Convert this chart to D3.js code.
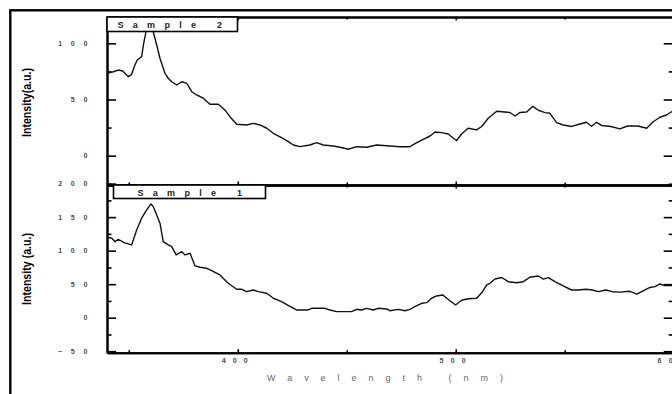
<!DOCTYPE html>
<html>
<head>
<meta charset="utf-8">
<script src="https://cdn.jsdelivr.net/npm/d3@7"></script>
<style>
  html, body { margin: 0; padding: 0; background: #fff; }
  svg { display: block; }
  text { font-family: "Liberation Sans", Arial, sans-serif; }
</style>
</head>
<body>
<svg id="chart" width="672" height="394"></svg>
<script>
// ---- Data ----
const xTicks = [400, 500, 600];
const xMinorTicks = [350, 450, 550];
const yTicksTop = [0, 50, 100];
const yMinorTop = [-25, 25, 75];
const yTicksBottom = [-50, 0, 50, 100, 150, 200];
const yMinorBottom = [-25, 25, 75, 125, 175];

const sample2Wavelength = [340.1,342.9,345.2,347.2,349.8,351.3,352.8,353.9,355.9,356.7,357.9,359.2,361.2,362.8,364.3,366.6,368.1,369.7,372.0,374.3,376.6,378.9,381.1,384.2,387.2,391.1,394.1,396.4,399.5,404.1,407.1,410.2,413.3,416.3,420.1,423.2,425.5,428.5,433.1,436.2,439.2,443.8,446.9,450.7,454.5,459.1,463.7,469.8,474.4,479.0,482.1,485.1,488.2,490.5,493.5,496.6,498.9,500.4,502.7,505.7,509.6,511.9,514.9,518.8,524.9,527.2,529.4,532.5,535.4,537.9,541.0,543.2,546.3,549.3,553.2,557.0,560.0,562.3,564.6,566.9,571.2,575.3,578.8,583.6,587.6,590.6,593.7,596.7,599.6];
const sample2Intensity = [73.3,74.7,76.2,75.4,70.3,72.4,80.7,85.1,88.1,98.5,110.3,112.5,110.3,98.5,86.7,73.3,68.9,65.8,62.9,65.8,64.4,56.9,54.0,51.1,45.7,45.7,40.7,34.7,27.9,27.3,28.8,27.3,24.4,19.9,16.0,12.5,9.5,8.0,9.5,11.6,9.5,8.6,7.5,5.7,8.0,7.5,9.5,8.6,8.0,8.0,11.6,14.6,17.5,21.1,20.5,19.3,15.5,13.5,19.3,24.4,22.9,26.0,33.3,39.5,38.4,35.3,38.4,38.9,43.9,40.4,38.3,37.7,29.4,27.3,26.0,28.2,29.7,26.2,29.7,26.9,26.0,23.8,26.4,26.4,24.4,30.2,34.2,36.2,39.8];

const sample1Wavelength = [340.0,342.2,343.7,345.2,347.8,351.3,353.6,355.9,358.2,360.2,361.2,362.8,364.3,365.8,368.1,369.7,371.7,374.3,375.8,378.1,380.4,382.7,385.7,388.0,391.8,395.6,399.5,401.8,404.1,407.1,409.4,413.3,416.3,420.1,423.9,427.0,432.3,433.9,440.0,442.3,445.4,452.2,454.5,456.8,459.1,462.2,464.4,468.3,469.8,473.6,476.7,479.0,481.2,484.4,486.7,488.9,491.2,494.1,496.9,499.9,502.7,505.7,509.6,512.3,514.2,515.7,518.0,521.1,524.1,527.9,531.0,534.0,537.8,540.2,542.5,545.5,549.3,553.2,556.2,559.7,562.7,565.4,568.9,571.9,575.3,579.9,583.1,586.0,589.1,591.4,593.7,595.5,599.2];
const sample1Intensity = [120.4,118.5,113.4,117.0,111.9,108.5,130.9,148.4,160.7,169.7,165.7,153.3,140.9,113.4,108.5,106.0,93.6,98.5,93.6,96.1,77.2,75.2,73.7,70.1,63.7,51.3,42.4,42.4,38.8,41.3,38.8,36.4,29.0,23.9,17.0,11.5,11.5,14.0,14.0,11.5,9.0,9.0,12.5,11.5,14.0,11.5,14.0,13.0,10.4,12.5,10.4,12.5,16.4,21.5,22.4,29.0,32.4,33.9,26.4,19.0,26.0,28.2,29.0,38.8,48.8,51.3,57.8,60.0,53.7,52.2,53.7,60.3,62.2,57.5,59.7,53.7,47.3,41.3,41.3,42.4,41.3,38.8,41.3,38.8,38.1,39.4,35.1,40.1,45.1,46.3,50.3,48.1,48.1];

const xTitle = "Wavelength (nm)";
const yTitleTop = "Intensity(a.u.)";
const yTitleBottom = "Intensity (a.u.)";
const labelTop = "Sample 2";
const labelBottom = "Sample 1";

// ---- Layout ----
const svg = d3.select("#chart");
const left = 107, right = 673.7;
const topPanel = { y0: 17, y1: 185 };
const botPanel = { y0: 185, y1: 352.7 };

svg.append("rect").attr("width", 672).attr("height", 394).attr("fill", "#fff");

// outer frame
svg.append("rect")
  .attr("x", 10.3).attr("y", 10.3).attr("width", 700).attr("height", 420)
  .attr("fill", "none").attr("stroke", "#000").attr("stroke-width", 2.4);

const x = d3.scaleLinear().domain([340, 600]).range([left, right]);
const yTop = d3.scaleLinear().domain([-26.1, 123.4]).range([topPanel.y1, topPanel.y0]);
const yBot = d3.scaleLinear().domain([-52.2, 197.9]).range([botPanel.y1, botPanel.y0]);

function styleAxis(g) {
  g.selectAll("path.domain").attr("stroke", "#000").attr("stroke-width", 2);
  g.selectAll(".tick line").attr("stroke", "#000").attr("stroke-width", 1.6);
  g.selectAll(".tick text")
    .attr("fill", "#4a4a4a")
    .style("font-size", "7px")
    .style("font-weight", "bold");
}

function drawPanel(p, y, majors, minors, showXLabels) {
  const g = svg.append("g");
  const inDom = v => v > y.domain()[0] && v < y.domain()[1];
  // left axis
  const gl = g.append("g").attr("transform", `translate(${left},0)`)
    .call(d3.axisLeft(y).tickValues(majors).tickSize(-9).tickSizeOuter(0).tickPadding(11)
      .tickFormat(d3.format("d")));
  styleAxis(gl);
  gl.selectAll(".tick text").style("letter-spacing", "8.7px");
  const glm = g.append("g").attr("transform", `translate(${left},0)`)
    .call(d3.axisLeft(y).tickValues(minors.filter(inDom)).tickSize(-4.5).tickSizeOuter(0).tickFormat(""));
  styleAxis(glm);
  // right axis
  const gr = g.append("g").attr("transform", `translate(${right},0)`)
    .call(d3.axisRight(y).tickValues(majors.filter(inDom)).tickSize(-10).tickSizeOuter(0).tickFormat(""));
  styleAxis(gr);
  const grm = g.append("g").attr("transform", `translate(${right},0)`)
    .call(d3.axisRight(y).tickValues(minors.filter(inDom)).tickSize(-5).tickSizeOuter(0).tickFormat(""));
  styleAxis(grm);
  // top axis
  const gt = g.append("g").attr("transform", `translate(0,${p.y0})`)
    .call(d3.axisTop(x).tickValues(xTicks).tickSize(-3.5).tickSizeOuter(0).tickFormat(""));
  styleAxis(gt);
  const gtm = g.append("g").attr("transform", `translate(0,${p.y0})`)
    .call(d3.axisTop(x).tickValues(xMinorTicks).tickSize(-2.5).tickSizeOuter(0).tickFormat(""));
  styleAxis(gtm);
  // bottom axis
  const gb = g.append("g").attr("transform", `translate(0,${p.y1})`)
    .call(d3.axisBottom(x).tickValues(xTicks).tickSize(-3.5).tickSizeOuter(0).tickPadding(5)
      .tickFormat(showXLabels ? d3.format("d") : ""));
  styleAxis(gb);
  gb.selectAll(".tick text").style("letter-spacing", "7.2px");
  const gbm = g.append("g").attr("transform", `translate(0,${p.y1})`)
    .call(d3.axisBottom(x).tickValues(xMinorTicks).tickSize(-2.5).tickSizeOuter(0).tickFormat(""));
  styleAxis(gbm);
  return g;
}

drawPanel(topPanel, yTop, yTicksTop, yMinorTop, false);
drawPanel(botPanel, yBot, yTicksBottom, yMinorBottom, true);

// curves
const lineTop = d3.line().x((d, i) => x(sample2Wavelength[i])).y(d => yTop(d));
const lineBot = d3.line().x((d, i) => x(sample1Wavelength[i])).y(d => yBot(d));
svg.append("path").attr("d", lineTop(sample2Intensity))
  .attr("fill", "none").attr("stroke", "#111").attr("stroke-width", 1.4).attr("stroke-linejoin", "round");
svg.append("path").attr("d", lineBot(sample1Intensity))
  .attr("fill", "none").attr("stroke", "#111").attr("stroke-width", 1.4).attr("stroke-linejoin", "round");

// sample label boxes
function sampleBox(x0, y0, x1, y1, txt, tx, ty) {
  svg.append("rect").attr("x", x0).attr("y", y0).attr("width", x1 - x0).attr("height", y1 - y0)
    .attr("fill", "#fff").attr("stroke", "#000").attr("stroke-width", 1.6);
  svg.append("text").attr("x", tx).attr("y", ty).text(txt)
    .style("font-size", "9px").style("font-weight", "bold").style("letter-spacing", "9.3px")
    .attr("fill", "#222");
}
sampleBox(107, 17, 237.5, 31.5, labelTop, 117.5, 28.3);
sampleBox(113.5, 185, 265.5, 198.5, labelBottom, 137.5, 196.3);

// y titles
svg.append("text")
  .attr("transform", "translate(30.5,102.5) rotate(-90)")
  .attr("text-anchor", "middle")
  .attr("textLength", 69).attr("lengthAdjust", "spacingAndGlyphs")
  .style("font-size", "12px").style("font-weight", "bold").attr("fill", "#000")
  .text(yTitleTop);
svg.append("text")
  .attr("transform", "translate(30.5,269) rotate(-90)")
  .attr("text-anchor", "middle")
  .attr("textLength", 72).attr("lengthAdjust", "spacingAndGlyphs")
  .style("font-size", "12px").style("font-weight", "bold").attr("fill", "#000")
  .text(yTitleBottom);

// x title
svg.append("text")
  .attr("x", 267).attr("y", 380.5)
  .attr("textLength", 236).attr("lengthAdjust", "spacing")
  .style("font-size", "9px").attr("fill", "#666")
  .text(xTitle);
</script>
</body>
</html>
